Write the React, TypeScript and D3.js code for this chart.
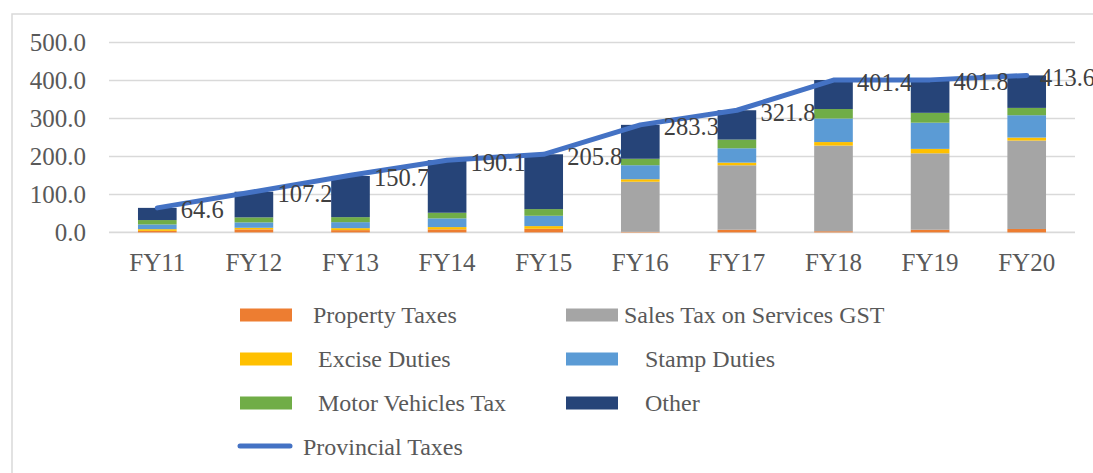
import React from "react";
import * as d3 from "d3";

const categories = ["FY11", "FY12", "FY13", "FY14", "FY15", "FY16", "FY17", "FY18", "FY19", "FY20"];
const propertyTaxes = [4, 8, 6, 8, 9.5, 1.5, 7, 3, 7, 9];
const salesTaxServices = [0, 0, 0, 0, 0, 132, 169.8, 225.7, 201.4, 232.9];
const exciseDuties = [4.5, 4.2, 5.2, 6, 7.1, 6.5, 7, 9.3, 11.6, 7.9];
const stampDuties = [12.5, 14.2, 15.8, 23, 27.2, 37, 37.8, 62, 69, 58.9];
const motorVehiclesTax = [11.5, 13.2, 13.2, 14.8, 17.6, 17, 22.9, 25, 26, 19.3];
const other = [32.1, 67.6, 108.5, 138.3, 144.4, 89.3, 77.3, 76.4, 86.8, 85.6];
const provincialTaxes = [64.6, 107.2, 150.7, 190.1, 205.8, 283.3, 321.8, 401.4, 401.8, 413.6];
const yTicks = [0, 100, 200, 300, 400, 500];

const seriesNames = [
  "Property Taxes",
  "Sales Tax on Services GST",
  "Excise Duties",
  "Stamp Duties",
  "Motor Vehicles Tax",
  "Other",
];
const seriesValues = [propertyTaxes, salesTaxServices, exciseDuties, stampDuties, motorVehiclesTax, other];
const colors = ["#ED7D31", "#A5A5A5", "#FFC000", "#5B9BD5", "#70AD47", "#264478"];
const lineColor = "#4472C4";

const W = 1093;
const H = 473;
const plotLeft = 109;
const plotRight = 1075;
const chartRight = 1095;
const yZero = 232.4;
const yTop = 42.6;
const FONT = "'Liberation Serif', 'Times New Roman', serif";
const labelSize = 24.5;

export default function App() {
  const x = d3.scaleBand<string>().domain(categories).range([plotLeft, plotRight]).paddingInner(0.6).paddingOuter(0.3);
  const y = d3.scaleLinear().domain([0, 500]).range([yZero, yTop]);

  const rows = categories.map((c, i) => {
    const r: any = { cat: c };
    seriesNames.forEach((n, k) => (r[n] = seriesValues[k][i]));
    return r;
  });
  const stack = d3.stack<any>().keys(seriesNames)(rows);
  const cx = (c: string) => (x(c) as number) + x.bandwidth() / 2;
  const line = d3
    .line<number>()
    .x((_, i) => cx(categories[i]))
    .y((v) => y(v));

  const labelWidth = (s: string) => {
    let w = 0;
    for (const ch of s) w += ch === "." ? 0.25 : 0.5;
    return w * labelSize;
  };

  const legendItems = [
    { name: "Property Taxes", color: colors[0], sx: 240, tx: 313, cy: 315 },
    { name: "Sales Tax on Services GST", color: colors[1], sx: 566, tx: 624, cy: 315 },
    { name: "Excise Duties", color: colors[2], sx: 240, tx: 318, cy: 359 },
    { name: "Stamp Duties", color: colors[3], sx: 566, tx: 645, cy: 359 },
    { name: "Motor Vehicles Tax", color: colors[4], sx: 240, tx: 318, cy: 403 },
    { name: "Other", color: colors[5], sx: 566, tx: 645, cy: 403 },
  ];

  return (
    <svg
      width={W}
      height={H}
      style={{ position: "fixed", left: 0, top: 0, display: "block", background: "#fff" }}
      fontFamily={FONT}
    >
      <rect x={0} y={0} width={W} height={H} fill="#fff" />
      <rect x={12} y={14} width={W + 20} height={H + 20} fill="none" stroke="#d9d9d9" strokeWidth={1.5} />
      {yTicks.map((t) => (
        <g key={t}>
          <line x1={plotLeft} x2={plotRight} y1={y(t)} y2={y(t)} stroke="#d9d9d9" strokeWidth={t === 0 ? 1.8 : 1.5} />
          <text x={86} y={y(t) + 8.6} textAnchor="end" fontSize={25} fill="#595959">
            {t.toFixed(1)}
          </text>
        </g>
      ))}
      {stack.map((s, k) => (
        <g key={seriesNames[k]} fill={colors[k]}>
          {s.map((d, i) => (
            <rect
              key={i}
              x={x(categories[i])}
              y={y(d[1])}
              width={x.bandwidth()}
              height={Math.max(0, y(d[0]) - y(d[1]))}
            />
          ))}
        </g>
      ))}
      {categories.map((c) => (
        <text key={c} x={cx(c)} y={271} textAnchor="middle" fontSize={25} fill="#595959">
          {c}
        </text>
      ))}
      <path
        d={line(provincialTaxes) || ""}
        fill="none"
        stroke={lineColor}
        strokeWidth={5}
        strokeLinecap="round"
        strokeLinejoin="round"
      />
      {provincialTaxes.map((v, i) => {
        const s = v.toFixed(1);
        const lx = Math.min(cx(categories[i]) + 23.5, chartRight - labelWidth(s));
        return (
          <text key={i} x={lx} y={y(v) + 10.5} fontSize={labelSize} fill="#404040">
            {s}
          </text>
        );
      })}
      {legendItems.map((l) => (
        <g key={l.name}>
          <rect x={l.sx} y={l.cy - 6.5} width={52} height={13} fill={l.color} />
          <text x={l.tx} y={l.cy + 8} fontSize={24} fill="#595959">
            {l.name}
          </text>
        </g>
      ))}
      <line x1={240} x2={290} y1={446} y2={446} stroke={lineColor} strokeWidth={5} strokeLinecap="round" />
      <text x={303} y={455} fontSize={24} fill="#595959">
        Provincial Taxes
      </text>
    </svg>
  );
}
